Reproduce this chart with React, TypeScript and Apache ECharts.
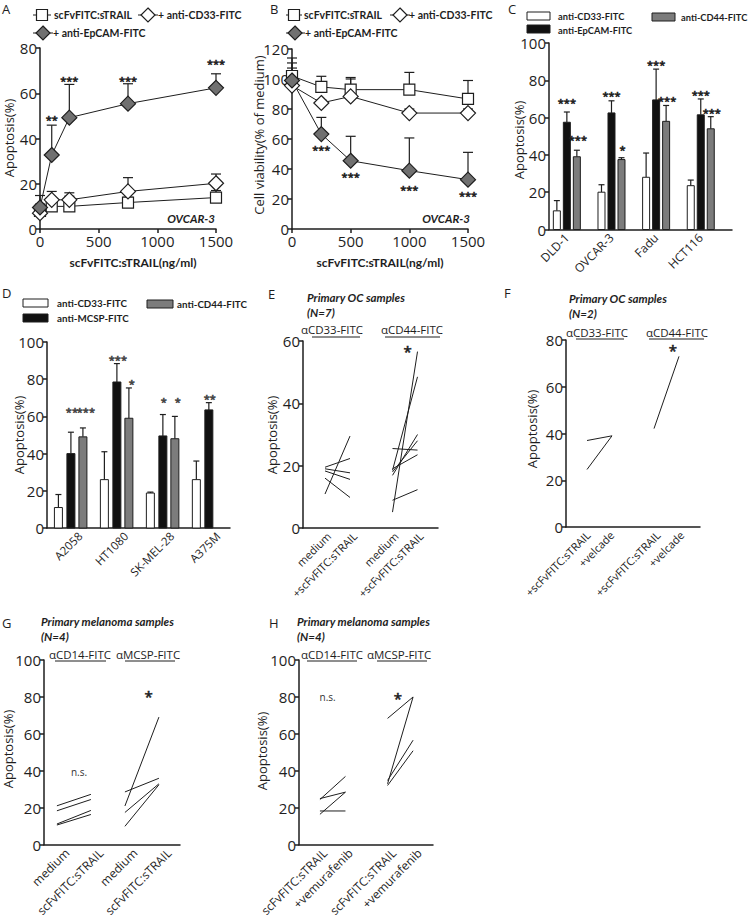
import React, { useEffect, useRef } from 'react';
import * as echarts from 'echarts';

const FONT = '"Open Sans", sans-serif';
const LFONT = 'Lato, sans-serif';
const INK = '#1e1e1e';
const DGRAY = '#707070';
const BGRAY = '#7c7c7c';

// ---------- Panel A ----------
const doseA = [0, 100, 250, 750, 1500];
const aTrail = [8, 10, 10, 11.7, 13.9];
const aTrailErr = [11, 12, 14.5, 14, 17];
const aCD33 = [7, 12.9, 12.9, 16.6, 20.2];
const aCD33Err = [9, 16.6, 16, 22.7, 24.3];
const aEpCAM = [9.5, 32.7, 49.2, 55.4, 62.4];
const aEpCAMErr = [14.8, 45.9, 63.9, 64.2, 68.6];
const aStarDose = [100, 250, 750, 1500];
const aStarY = [49.5, 66.8, 66.8, 74.4];
const aStarText = ['**', '***', '***', '***'];

// ---------- Panel B ----------
const doseB = [0, 250, 500, 1000, 1500];
const bTrail = [102, 94.7, 92.9, 92.9, 86.7];
const bTrailErr = [114, 101.8, 101, 104.4, 99];
const bCD33 = [95.6, 84, 88.4, 77.3, 77.3];
const bCD33Err = [110.7, 86, 100, 80, 80];
const bEpCAM = [99, 63.3, 45.5, 38.9, 32.9];
const bEpCAMErr = [107.3, 74.4, 61.8, 60.7, 51.1];
const bStarDose = [250, 500, 1000, 1500];
const bStarY = [55, 36.7, 28.4, 24];
const bStarText = ['***', '***', '***', '***'];

// ---------- Panel C ----------
const cCats = ['DLD-1', 'OVCAR-3', 'Fadu', 'HCT116'];
const cCD33 = [10, 20, 28, 23.5];
const cCD33Err = [15.5, 24, 41, 26.5];
const cEpCAM = [57.5, 62.5, 69.5, 61.5];
const cEpCAMErr = [63, 69, 86, 70];
const cCD44 = [39, 37.5, 58, 54];
const cCD44Err = [42.5, 38.5, 66.5, 60.5];
const cStarsEp = ['***', '***', '***', '***'];
const cStarsEpY = [69.5, 73.1, 90.1, 74];
const cStars44 = ['***', '*', '***', '***'];
const cStars44Y = [49.8, 44.4, 70.4, 64.2];

// ---------- Panel D ----------
const dCats = ['A2058', 'HT1080', 'SK-MEL-28', 'A375M'];
const dCD33 = [11, 26, 18.8, 26];
const dCD33Err = [18, 41, 19.3, 36];
const dMCSP = [40, 78.5, 49.5, 63.5];
const dMCSPErr = [51.5, 88.4, 61, 67.4];
const dCD44 = [49, 59, 48, null];
const dCD44Err = [53.8, 75.3, 60, null];
const dStarsM = ['**', '***', '*', '**'];
const dStarsMY = [64.2, 92.3, 69.5, 71.3];
const dStars44 = ['***', '*', '*', ''];
const dStars44Y = [64.2, 79.4, 69.5, 0];

// ---------- Panel E ----------
const eLabels = ['medium', '+scFvFITC:sTRAIL', 'medium', '+scFvFITC:sTRAIL'];
const eCD33 = [[10.9, 29.5], [19.5, 22.3], [19, 17.7], [18.3, 15.6], [16, 9.8]];
const eCD44 = [[5.1, 56.6], [8.9, 12.3], [18.5, 48.5], [25.5, 25], [16.9, 30], [18, 28], [19, 23.5]];

// ---------- Panel F ----------
const fLabels = ['+scFvFITC:sTRAIL', '+velcade', '+scFvFITC:sTRAIL', '+velcade'];
const fCD33 = [[24.6, 39], [37, 39]];
const fCD44 = [[42.1, 73]];

// ---------- Panel G ----------
const gLabels = ['medium', 'scFvFITC:sTRAIL', 'medium', 'scFvFITC:sTRAIL'];
const gCD14 = [[21.1, 27.3], [18.4, 24.5], [11.25, 18.6], [10.7, 16.4]];
const gMCSP = [[21, 69.1], [28.6, 36], [17.5, 33], [10, 32.5]];

// ---------- Panel H ----------
const hLabels = ['scFvFITC:sTRAIL', '+vemurafenib', 'scFvFITC:sTRAIL', '+vemurafenib'];
const hCD14 = [[24.5, 37], [25, 28.5], [16.5, 28.5], [18.3, 18.3]];
const hMCSP = [[68.4, 80], [33, 80], [34.8, 56.6], [32.1, 50.9]];

// ---------- layout ----------
const grids = [
  { left: 40, top: 48, width: 176, height: 181 },   // A
  { left: 292, top: 49, width: 176, height: 180 },  // B
  { left: 549, top: 43, width: 183, height: 186.5 },// C
  { left: 47, top: 342, width: 183, height: 186 },  // D
  { left: 303, top: 341, width: 135, height: 187 }, // E
  { left: 566, top: 340, width: 134, height: 187 }, // F
  { left: 44, top: 660, width: 136, height: 187 },  // G
  { left: 299, top: 660, width: 134, height: 187 }, // H
];

const axisLine = { show: true, onZero: false, lineStyle: { color: INK, width: 1.5 } };

function yAx(gi: number, max: number, interval: number) {
  return {
    type: 'value', gridIndex: gi, min: 0, max, interval,
    axisLine, axisTick: { show: true, length: 4, lineStyle: { color: INK, width: 1.5 } },
    axisLabel: { color: INK, fontSize: 15, fontFamily: FONT, margin: 3, formatter: (v: number) => String(v) },
    splitLine: { show: false },
  };
}

function xDose(gi: number) {
  return {
    type: 'value', gridIndex: gi, min: 0, max: 1500, interval: 500,
    axisLine, axisTick: { show: true, length: 4, lineStyle: { color: INK, width: 1.5 } },
    axisLabel: { color: INK, fontSize: 15, fontFamily: FONT, margin: 4, formatter: (v: number) => String(v) },
    splitLine: { show: false },
  };
}

function xCat(gi: number, min: number, max: number, pos: number[], labels: string[], fontSize: number, margin: number) {
  return {
    type: 'value', gridIndex: gi, min, max,
    axisLine, axisTick: { show: false },
    axisLabel: {
      color: INK, fontSize, fontFamily: FONT, rotate: 45, margin,
      customValues: pos,
      formatter: (v: number) => {
        const i = pos.findIndex((p) => Math.abs(p - v) < 1e-6);
        return i >= 0 ? labels[i] : '';
      },
    },
    splitLine: { show: false },
  };
}

function errSeries(gi: number, xs: number[], vals: number[], errs: number[]) {
  return {
    type: 'custom', xAxisIndex: gi, yAxisIndex: gi, z: 1,
    itemStyle: { color: INK },
    data: xs.map((x, i) => [x, vals[i], errs[i]]),
    encode: { x: 0, y: [1, 2] },
    renderItem: (_p: any, api: any) => {
      const a = api.coord([api.value(0), api.value(1)]);
      const b = api.coord([api.value(0), api.value(2)]);
      return {
        type: 'group', children: [
          { type: 'line', shape: { x1: a[0], y1: a[1], x2: b[0], y2: b[1] }, style: { stroke: INK, lineWidth: 1.2 } },
          { type: 'line', shape: { x1: b[0] - 5, y1: b[1], x2: b[0] + 5, y2: b[1] }, style: { stroke: INK, lineWidth: 1.2 } },
        ],
      };
    },
  };
}

function markerLine(gi: number, xs: number[], vals: number[], symbol: string, size: number | number[], fill: string) {
  return {
    type: 'line', xAxisIndex: gi, yAxisIndex: gi, z: 3,
    data: xs.map((x, i) => [x, vals[i]]),
    symbol, symbolSize: size, showAllSymbol: true,
    lineStyle: { color: INK, width: 1 },
    itemStyle: { color: fill, borderColor: INK, borderWidth: 1.2 },
  };
}

function barSeries(gi: number, vals: (number | null)[], errs: (number | null)[], offsetPx: number, widthPx: number, fill: string) {
  const data: number[][] = [];
  vals.forEach((v, i) => { if (v != null) data.push([i, v as number, errs[i] as number]); });
  return {
    type: 'custom', xAxisIndex: gi, yAxisIndex: gi, z: 2,
    itemStyle: { color: fill },
    data, encode: { x: 0, y: [1, 2] },
    renderItem: (_p: any, api: any) => {
      const x = api.value(0);
      const top = api.coord([x, api.value(1)]);
      const base = api.coord([x, 0]);
      const et = api.coord([x, api.value(2)]);
      const cx = top[0] + offsetPx;
      return {
        type: 'group', children: [
          { type: 'line', shape: { x1: cx, y1: top[1], x2: cx, y2: et[1] }, style: { stroke: INK, lineWidth: 1.2 } },
          { type: 'line', shape: { x1: cx - 3, y1: et[1], x2: cx + 3, y2: et[1] }, style: { stroke: INK, lineWidth: 1.2 } },
          { type: 'rect', shape: { x: cx - widthPx / 2, y: top[1], width: widthPx, height: base[1] - top[1] }, style: { fill, stroke: INK, lineWidth: 1 } },
        ],
      };
    },
  };
}

function starSeries(gi: number, xs: number[], ys: number[], texts: string[], offsetPx: number, fontSize: number, color = INK, strokeW = 0.6) {
  return {
    type: 'custom', xAxisIndex: gi, yAxisIndex: gi, z: 4,
    itemStyle: { color },
    data: xs.map((x, i) => [x, ys[i], i]).filter((_d, i) => texts[i] !== ''),
    encode: { x: 0, y: 1 },
    renderItem: (_p: any, api: any) => {
      const c = api.coord([api.value(0), api.value(1)]);
      const style: any = {
        text: texts[api.value(2)], fontSize, fontFamily: FONT, fill: color,
        align: 'center', verticalAlign: 'middle',
      };
      if (strokeW > 0) { style.stroke = color; style.lineWidth = strokeW; }
      return { type: 'text', x: c[0] + offsetPx, y: c[1] + fontSize * 0.25, style };
    },
  };
}

function pairSeries(gi: number, pairs: number[][], x0: number, x1: number) {
  return {
    type: 'custom', xAxisIndex: gi, yAxisIndex: gi, z: 2,
    itemStyle: { color: INK },
    data: pairs.map((p) => [x0, p[0], x1, p[1]]),
    encode: { x: [0, 2], y: [1, 3] },
    renderItem: (_p: any, api: any) => {
      const a = api.coord([api.value(0), api.value(1)]);
      const b = api.coord([api.value(2), api.value(3)]);
      return { type: 'line', shape: { x1: a[0], y1: a[1], x2: b[0], y2: b[1] }, style: { stroke: INK, lineWidth: 1 } };
    },
  };
}

// ---------- graphic helpers ----------
function txt(text: string, x: number, y: number, o: any = {}) {
  return {
    type: 'text', x, y, rotation: o.rotation || 0, z: 10,
    style: {
      text, fontSize: o.size || 12, fontFamily: o.family || FONT, fontWeight: o.weight || 'normal',
      fontStyle: o.style || 'normal', fill: o.fill || INK, align: o.align || 'left', verticalAlign: o.va || 'middle',
    },
  };
}
function ln(x1: number, y1: number, x2: number, y2: number, w = 1) {
  return { type: 'line', z: 10, shape: { x1, y1, x2, y2 }, style: { stroke: INK, lineWidth: w } };
}
function box(x: number, y: number, w: number, h: number, fill: string) {
  return { type: 'rect', z: 10, shape: { x, y, width: w, height: h }, style: { fill, stroke: INK, lineWidth: 1 } };
}
function diamond(cx: number, cy: number, r: number, fill: string) {
  return { type: 'polygon', z: 11, shape: { points: [[cx, cy - r], [cx + r, cy], [cx, cy + r], [cx - r, cy]] }, style: { fill, stroke: INK, lineWidth: 1.2 } };
}
function sqr(cx: number, cy: number, s: number) {
  return { type: 'rect', z: 11, shape: { x: cx - s / 2, y: cy - s / 2, width: s, height: s }, style: { fill: '#fff', stroke: INK, lineWidth: 1.2 } };
}
const LEG = { size: 10.5, family: LFONT, weight: 'bold' };
const LEGC = { size: 9.3, family: LFONT, weight: 'bold' };
const LEGD = { size: 9.8, family: LFONT, weight: 'bold' };
const YN = { size: 13, rotation: Math.PI / 2, align: 'center' };
const TITLE = { size: 11.5, family: LFONT, weight: 'bold', style: 'italic' };
const HDR = { size: 11.5, align: 'center' };

const graphics: any[] = [
  // panel letters
  txt('A', 2, 9, { size: 13 }), txt('B', 270, 9, { size: 13 }), txt('C', 508, 9, { size: 13 }),
  txt('D', 2, 293, { size: 13 }), txt('E', 268, 294, { size: 13 }), txt('F', 504, 293, { size: 13 }),
  txt('G', 2, 623, { size: 13 }), txt('H', 269, 623, { size: 13 }),
  // legend A
  ln(33, 15, 51, 15), sqr(42, 15, 11), txt('scFvFITC:sTRAIL', 54, 15, LEG),
  ln(138, 15, 158, 15), diamond(148, 15, 7, '#fff'), txt('+ anti-CD33-FITC', 158, 15, LEG),
  ln(33, 33, 53, 33), diamond(43, 33, 7, DGRAY), txt('+ anti-EpCAM-FITC', 53, 33, LEG),
  // legend B
  ln(286, 15, 302, 15), sqr(294, 15, 11), txt('scFvFITC:sTRAIL', 304, 15, LEG),
  ln(390, 15, 410, 15), diamond(400, 15, 7, '#fff'), txt('+ anti-CD33-FITC', 409, 15, LEG),
  ln(286, 33, 305, 33), diamond(295, 33, 7, DGRAY), txt('+ anti-EpCAM-FITC', 305, 33, LEG),
  // legend C
  box(527, 12, 23, 8, '#fff'), txt('anti-CD33-FITC', 558, 16, LEGC),
  box(527, 25, 23, 8, '#111'), txt('anti-EpCAM-FITC', 558, 30, LEGC),
  box(652, 13, 23, 8, BGRAY), txt('anti-CD44-FITC', 681, 17, LEGC),
  // legend D
  box(23, 299, 25, 8, '#fff'), txt('anti-CD33-FITC', 57, 303, LEGD),
  box(23, 314, 25, 8, '#111'), txt('anti-MCSP-FITC', 57, 318, LEGD),
  box(147, 300, 26, 8, BGRAY), txt('anti-CD44-FITC', 177, 304, LEGD),
  // y names
  txt('Apoptosis(%)', 9, 138, YN),
  txt('Cell viability(% of medium)', 259, 135, YN),
  txt('Apoptosis(%)', 519, 140, YN),
  txt('Apoptosis(%)', 19, 435, YN),
  txt('Apoptosis(%)', 272, 435, YN),
  txt('Apoptosis(%)', 532, 429, YN),
  txt('Apoptosis(%)', 8, 749, YN),
  txt('Apoptosis(%)', 262, 751, YN),
  // x names A/B
  txt('scFvFITC:sTRAIL(ng/ml)', 133, 262, { size: 12, family: LFONT, weight: 'bold', align: 'center' }),
  txt('scFvFITC:sTRAIL(ng/ml)', 380, 262, { size: 12, family: LFONT, weight: 'bold', align: 'center' }),
  txt('OVCAR-3', 215, 218, { ...TITLE, align: 'right' }),
  txt('OVCAR-3', 470, 218, { ...TITLE, align: 'right' }),
  // titles E-H
  txt('Primary OC samples', 307, 297, TITLE), txt('(N=7)', 307, 312, TITLE),
  txt('Primary OC samples', 569, 298, TITLE), txt('(N=2)', 569, 313, TITLE),
  txt('Primary melanoma samples', 41, 621, TITLE), txt('(N=4)', 41, 636, TITLE),
  txt('Primary melanoma samples', 297, 621, TITLE), txt('(N=4)', 297, 636, TITLE),
  // headers E
  txt('αCD33-FITC', 332, 329, HDR), ln(312, 337, 360, 337),
  txt('αCD44-FITC', 412, 329, HDR), ln(385, 337, 440, 337),
  // headers F
  txt('αCD33-FITC', 597, 332, HDR), ln(576, 339, 624, 339),
  txt('αCD44-FITC', 677, 332, HDR), ln(649, 339, 704, 339),
  // headers G
  txt('αCD14-FITC', 80, 654, HDR), ln(55, 661, 106, 661),
  txt('αMCSP-FITC', 148, 654, HDR), ln(125, 661, 175, 661),
  // headers H
  txt('αCD14-FITC', 332, 654, HDR), ln(307, 661, 357, 661),
  txt('αMCSP-FITC', 399, 654, HDR), ln(377, 661, 427, 661),
];

// E-H positions
const ePos = [0, 1, 2.7, 3.7];
const eLabPos = [0.15, 1.2, 2.85, 3.85];
const fPos = [0, 1, 2.68, 3.68];
const fLabPos = [0.05, 1.0, 2.85, 3.8];
const gPos = [0, 1, 2, 3];
const gLabPos = [0.3, 1.3, 2.3, 3.3];
const hPos = [0, 1, 2.65, 3.65];
const hLabPos = [0.2, 1.2, 2.9, 3.9];
const cPos = [0, 1, 2, 3];
const dLabPos = [0.2, 1.2, 2.2, 3.2];

function buildOption() {
  const series: any[] = [
    // A
    errSeries(0, doseA, aTrail, aTrailErr),
    errSeries(0, doseA, aCD33, aCD33Err),
    errSeries(0, doseA, aEpCAM, aEpCAMErr),
    markerLine(0, doseA, aTrail, 'rect', 11, '#fff'),
    markerLine(0, doseA, aCD33, 'diamond', 15, '#fff'),
    markerLine(0, doseA, aEpCAM, 'diamond', 15, DGRAY),
    starSeries(0, aStarDose, aStarY, aStarText, 0, 11),
    // B
    errSeries(1, doseB, bTrail, bTrailErr),
    errSeries(1, doseB, bCD33, bCD33Err),
    errSeries(1, doseB, bEpCAM, bEpCAMErr),
    markerLine(1, doseB, bTrail, 'rect', 11, '#fff'),
    markerLine(1, doseB, bCD33, 'diamond', 15, '#fff'),
    markerLine(1, doseB, bEpCAM, 'diamond', 15, DGRAY),
    starSeries(1, bStarDose, bStarY, bStarText, 0, 11),
    // C
    barSeries(2, cCD33, cCD33Err, -10, 7, '#fff'),
    barSeries(2, cEpCAM, cEpCAMErr, 0, 7, '#111'),
    barSeries(2, cCD44, cCD44Err, 10, 7, BGRAY),
    starSeries(2, cPos, cStarsEpY, cStarsEp, 0, 11),
    starSeries(2, cPos, cStars44Y, cStars44, 11, 11),
    // D
    barSeries(3, dCD33, dCD33Err, -12.5, 8, '#fff'),
    barSeries(3, dMCSP, dMCSPErr, 0, 8, '#111'),
    barSeries(3, dCD44, dCD44Err, 12, 8, BGRAY),
    starSeries(3, cPos, dStarsMY, dStarsM, 1, 11, '#444'),
    starSeries(3, cPos, dStars44Y, dStars44, 15, 11, '#444'),
    // E
    pairSeries(4, eCD33, ePos[0], ePos[1]),
    pairSeries(4, eCD44, ePos[2], ePos[3]),
    starSeries(4, [(ePos[2] + ePos[3]) / 2 + 0.1], [58], ['*'], 0, 15),
    // F
    pairSeries(5, fCD33, fPos[0], fPos[1]),
    pairSeries(5, fCD44, fPos[2], fPos[3]),
    starSeries(5, [(fPos[2] + fPos[3]) / 2 + 0.25], [77.5], ['*'], 0, 15),
    // G
    pairSeries(6, gCD14, gPos[0], gPos[1]),
    pairSeries(6, gMCSP, gPos[2], gPos[3]),
    starSeries(6, [0.65], [40.5], ['n.s.'], 0, 10, '#333', 0),
    starSeries(6, [2.7], [82.5], ['*'], 0, 15),
    // H
    pairSeries(7, hCD14, hPos[0], hPos[1]),
    pairSeries(7, hMCSP, hPos[2], hPos[3]),
    starSeries(7, [0.3], [81.5], ['n.s.'], 0, 10, '#333', 0),
    starSeries(7, [3.05], [81.5], ['*'], 0, 15),
  ];

  return {
    animation: false,
    backgroundColor: '#fff',
    grid: grids,
    xAxis: [
      xDose(0), xDose(1),
      xCat(2, -0.4, 3.7, cPos, cCats, 12, 6),
      xCat(3, -0.52, 3.46, dLabPos, dCats, 11.5, 6),
      xCat(4, -0.88, 4.52, eLabPos, eLabels, 11, 6),
      xCat(5, -0.84, 4.52, fLabPos, fLabels, 11, 6),
      xCat(6, -0.38, 3.62, gLabPos, gLabels, 12, 6),
      xCat(7, -0.82, 4.43, hLabPos, hLabels, 12, 6),
    ],
    yAxis: [
      yAx(0, 80, 20), yAx(1, 120, 20), yAx(2, 100, 20), yAx(3, 100, 20),
      yAx(4, 60, 20), yAx(5, 80, 20), yAx(6, 100, 20), yAx(7, 100, 20),
    ],
    graphic: { elements: graphics },
    series,
  };
}

export default function App() {
  const ref = useRef<HTMLDivElement>(null);
  useEffect(() => {
    if (!ref.current) return;
    const chart = echarts.init(ref.current, undefined, { renderer: 'svg' });
    chart.setOption(buildOption() as any);
    return () => chart.dispose();
  }, []);
  return (
    <div
      ref={ref}
      style={{ position: 'fixed', left: 0, top: 0, width: 750, height: 919, background: '#fff' }}
    />
  );
}
